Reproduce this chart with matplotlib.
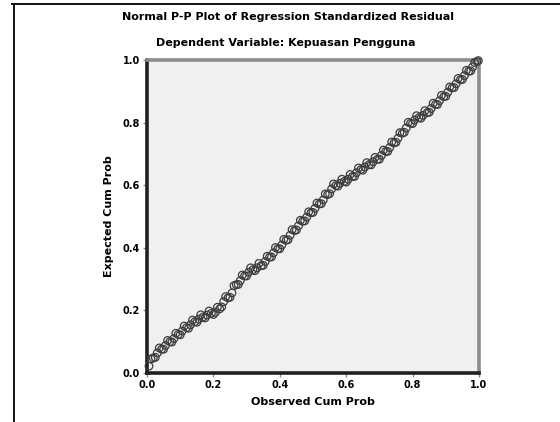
import matplotlib
matplotlib.use("Agg")
import matplotlib.pyplot as plt
from matplotlib.lines import Line2D

title_line1 = "Normal P-P Plot of Regression Standardized Residual"
title_line2 = "Dependent Variable: Kepuasan Pengguna"
x_label = "Observed Cum Prob"
y_label = "Expected Cum Prob"
ticks = [0.0, 0.2, 0.4, 0.6, 0.8, 1.0]
tick_labels = ["0.0", "0.2", "0.4", "0.6", "0.8", "1.0"]

observed_a = [0.006, 0.019, 0.031, 0.044, 0.056, 0.069, 0.081, 0.094, 0.106, 0.119,
              0.131, 0.144, 0.156, 0.169, 0.181, 0.194, 0.206, 0.219, 0.231, 0.244,
              0.256, 0.269, 0.281, 0.294, 0.306, 0.319, 0.331, 0.344, 0.356, 0.369,
              0.381, 0.394, 0.406, 0.419, 0.431, 0.444, 0.456, 0.469, 0.481, 0.494,
              0.506, 0.519, 0.531, 0.544, 0.556, 0.569, 0.581, 0.594, 0.606, 0.619,
              0.631, 0.644, 0.656, 0.669, 0.681, 0.694, 0.706, 0.719, 0.731, 0.744,
              0.756, 0.769, 0.781, 0.794, 0.806, 0.819, 0.831, 0.844, 0.856, 0.869,
              0.881, 0.894, 0.906, 0.919, 0.931, 0.944, 0.956, 0.969, 0.981, 0.994]
expected_a = [0.022, 0.048, 0.064, 0.076, 0.088, 0.100, 0.110, 0.123, 0.134, 0.145,
              0.154, 0.164, 0.172, 0.179, 0.185, 0.191, 0.194, 0.205, 0.228, 0.240,
              0.256, 0.282, 0.295, 0.310, 0.322, 0.330, 0.336, 0.343, 0.356, 0.370,
              0.384, 0.397, 0.409, 0.424, 0.440, 0.455, 0.470, 0.485, 0.498, 0.512,
              0.526, 0.540, 0.553, 0.570, 0.588, 0.599, 0.606, 0.612, 0.619, 0.628,
              0.640, 0.650, 0.658, 0.666, 0.675, 0.683, 0.695, 0.708, 0.720, 0.735,
              0.750, 0.766, 0.783, 0.798, 0.808, 0.816, 0.823, 0.832, 0.845, 0.858,
              0.870, 0.883, 0.897, 0.911, 0.924, 0.937, 0.950, 0.964, 0.978, 0.995]

observed_b = [0.012, 0.025, 0.037, 0.050, 0.062, 0.075, 0.087, 0.100, 0.112, 0.125,
              0.137, 0.150, 0.162, 0.175, 0.187, 0.200, 0.212, 0.225, 0.237, 0.250,
              0.262, 0.275, 0.287, 0.300, 0.312, 0.325, 0.337, 0.350, 0.362, 0.375,
              0.387, 0.400, 0.412, 0.425, 0.437, 0.450, 0.462, 0.475, 0.487, 0.500,
              0.512, 0.525, 0.537, 0.550, 0.562, 0.575, 0.587, 0.600, 0.612, 0.625,
              0.637, 0.650, 0.662, 0.675, 0.687, 0.700, 0.712, 0.725, 0.737, 0.750,
              0.762, 0.775, 0.787, 0.800, 0.812, 0.825, 0.837, 0.850, 0.862, 0.875,
              0.887, 0.900, 0.912, 0.925, 0.937, 0.950, 0.962, 0.975, 0.987, 0.998]
expected_b = [0.045, 0.050, 0.080, 0.076, 0.104, 0.099, 0.127, 0.122, 0.150, 0.143,
              0.169, 0.162, 0.186, 0.176, 0.198, 0.187, 0.210, 0.211, 0.244, 0.242,
              0.279, 0.283, 0.313, 0.310, 0.336, 0.327, 0.350, 0.344, 0.373, 0.371,
              0.401, 0.397, 0.427, 0.426, 0.458, 0.457, 0.488, 0.486, 0.515, 0.513,
              0.543, 0.541, 0.572, 0.573, 0.604, 0.597, 0.619, 0.610, 0.634, 0.628,
              0.655, 0.648, 0.672, 0.665, 0.689, 0.683, 0.712, 0.708, 0.738, 0.737,
              0.768, 0.769, 0.801, 0.797, 0.822, 0.814, 0.838, 0.833, 0.862, 0.858,
              0.887, 0.884, 0.914, 0.912, 0.941, 0.938, 0.967, 0.965, 0.992, 0.998]

W, H = 560, 422
fig = plt.figure(figsize=(W / 100, H / 100), dpi=100)
fig.patch.set_facecolor("white")

ax = fig.add_axes([147 / W, (H - 373) / H, 332 / W, 313 / H])
ax.set_facecolor("#F0F0F0")

for xs, ys in ((observed_a, expected_a), (observed_b, expected_b)):
    ax.scatter(xs, ys, s=30, facecolors="none", edgecolors="#3c3c3c",
               linewidths=0.9, zorder=3, clip_on=False)

ax.set_xlim(0, 1)
ax.set_ylim(0, 1)
ax.set_xticks(ticks)
ax.set_yticks(ticks)
ax.set_xticklabels(tick_labels, fontsize=7, fontweight="bold")
ax.set_yticklabels(tick_labels, fontsize=7, fontweight="bold")
ax.tick_params(direction="out", length=3, width=1, color="#888888", pad=2)

for side in ("left", "bottom"):
    ax.spines[side].set_color("#202020")
    ax.spines[side].set_linewidth(2.6)
for side in ("top", "right"):
    ax.spines[side].set_color("#8c8c8c")
    ax.spines[side].set_linewidth(2.6)

ax.set_xlabel(x_label, fontsize=8, fontweight="bold", labelpad=5)
ax.set_ylabel(y_label, fontsize=8, fontweight="bold", labelpad=6)

fig.text(0.5 * (108 + 468) / W, 1 - 17 / H, title_line1, ha="center", va="center",
         fontsize=8, fontweight="bold")
fig.text(0.5 * (150 + 422) / W, 1 - 43 / H, title_line2, ha="center", va="center",
         fontsize=8, fontweight="bold")

# outer frame lines (top and left)
fig.add_artist(Line2D([12 / W, 1.0], [1 - 4 / H, 1 - 4 / H], color="#111111", lw=1.4,
                      transform=fig.transFigure))
fig.add_artist(Line2D([14 / W, 14 / W], [0.0, 1 - 4 / H], color="#111111", lw=1.4,
                      transform=fig.transFigure))

fig.savefig("out.png", dpi=100)
